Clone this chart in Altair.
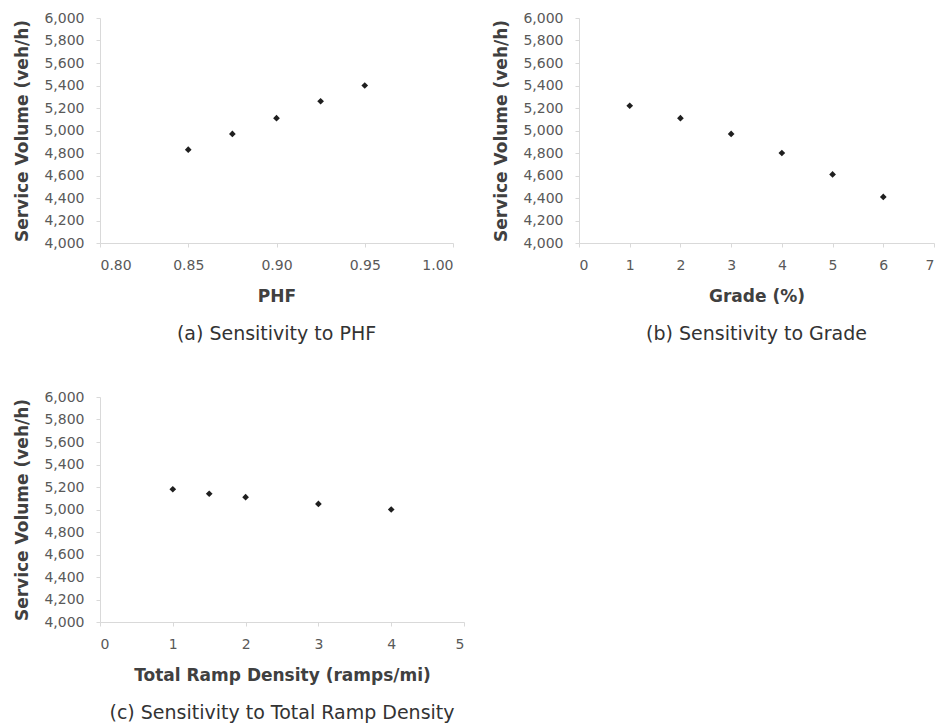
import altair as alt
import pandas as pd

# ---- data ----
phf = [0.85, 0.875, 0.90, 0.925, 0.95]
phf_sv = [4830, 4970, 5110, 5260, 5400]

grade = [1, 2, 3, 4, 5, 6]
grade_sv = [5220, 5110, 4970, 4800, 4610, 4410]

ramp = [1, 1.5, 2, 3, 4]
ramp_sv = [5180, 5140, 5110, 5050, 5000]

y_ticks = [4000, 4200, 4400, 4600, 4800, 5000, 5200, 5400, 5600, 5800, 6000]
phf_ticks = [0.80, 0.85, 0.90, 0.95, 1.00]
grade_ticks = [0, 1, 2, 3, 4, 5, 6, 7]
ramp_ticks = [0, 1, 2, 3, 4, 5]

y_title = "Service Volume (veh/h)"
FONT = "DejaVu Sans"


def panel(xs, ys, xtitle, caption, xticks, xfmt, width):
    df = pd.DataFrame({"x": xs, "y": ys})
    return (
        alt.Chart(
            df,
            title=alt.TitleParams(
                caption,
                orient="bottom",
                anchor="middle",
                offset=21,
                fontSize=19,
                fontWeight="normal",
                font=FONT,
                color="#333333",
            ),
        )
        .mark_point(shape="diamond", filled=True, size=45, color="#1f1f1f", opacity=1)
        .encode(
            x=alt.X(
                "x:Q",
                scale=alt.Scale(domain=[xticks[0], xticks[-1]], nice=False, zero=False),
                axis=alt.Axis(title=xtitle, values=xticks, format=xfmt),
            ),
            y=alt.Y(
                "y:Q",
                scale=alt.Scale(domain=[4000, 6000], nice=False, zero=False),
                axis=alt.Axis(title=y_title, values=y_ticks, format=",d"),
            ),
        )
        .properties(width=width, height=225)
    )


a = panel(phf, phf_sv, "PHF", "(a) Sensitivity to PHF", phf_ticks, ".2f", 353)
b = panel(grade, grade_sv, "Grade (%)", "(b) Sensitivity to Grade", grade_ticks, "d", 355)
c = panel(ramp, ramp_sv, "Total Ramp Density (ramps/mi)",
          "(c) Sensitivity to Total Ramp Density", ramp_ticks, "d", 364)

row1 = alt.hconcat(a, b, spacing=38)
chart = (
    alt.vconcat(row1, c, spacing=44)
    .properties(padding={"left": 5, "top": 2, "right": 0, "bottom": 0}, background="white")
    .configure_axis(
        labelFont=FONT,
        labelFontSize=14,
        labelColor="#595959",
        titleFont=FONT,
        titleFontSize=17,
        titleFontWeight="bold",
        titleColor="#404040",
        domainColor="#d9d9d9",
        tickColor="#d9d9d9",
        tickSize=4,
        grid=False,
    )
    .configure_axisX(labelPadding=11, titlePadding=16)
    .configure_axisY(labelPadding=12, titlePadding=12)
    .configure_view(stroke="transparent")
)

chart.save("out.html", embed_options={"renderer": "svg", "actions": False})
